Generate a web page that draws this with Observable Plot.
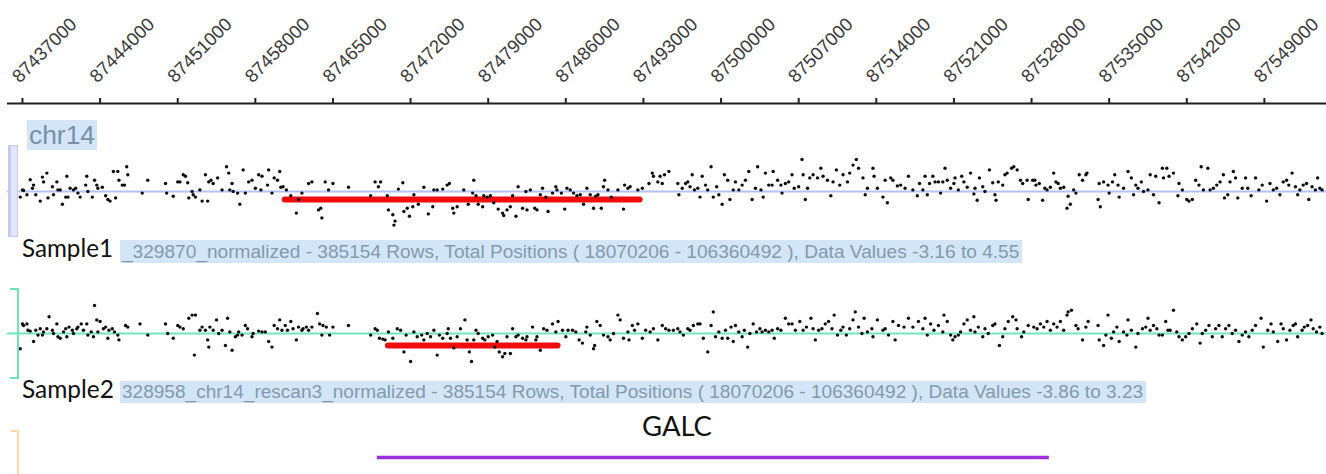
<!DOCTYPE html>
<html><head><meta charset="utf-8">
<script src="https://cdn.jsdelivr.net/npm/d3@7"></script>
<script src="https://cdn.jsdelivr.net/npm/@observablehq/plot@0.6"></script>
<style>
html,body{margin:0;padding:0;background:#fff;}
#chart{position:relative;width:1326px;height:474px;overflow:hidden;background:#fff;}
#chart svg{position:absolute;left:0;background:transparent;}
.lbl{position:absolute;white-space:nowrap;}
.brk{position:absolute;box-sizing:border-box;}
</style></head>
<body><div id="chart"></div>
<script>
// ---------- data ----------
const chrom = "chr14";
const windowStart = 87435000;            // bp; point positions are kb offsets from here
const xDomain = [87435650, 87554600];    // visible genomic window (bp)
const tickLabels = [87437000, 87444000, 87451000, 87458000, 87465000, 87472000, 87479000, 87486000,
  87493000, 87500000, 87507000, 87514000, 87521000, 87528000, 87535000, 87542000, 87549000];

const trackNames = ["Sample1", "Sample2"];
const trackInfo = [
  "_329870_normalized - 385154 Rows, Total Positions ( 18070206 - 106360492 ), Data Values -3.16 to 4.55",
  "328958_chr14_rescan3_normalized - 385154 Rows, Total Positions ( 18070206 - 106360492 ), Data Values -3.86 to 3.23"
];

// [kb offset from windowStart, log ratio]
const sample1 = [[1.8,-0.35],[2.0,0.1],[2.1,0.06],[2.4,-0.2],[2.7,0.73],[2.9,0.2],[3.0,0.4],[3.2,-0.2],[3.6,-0.6],[3.8,0.9],[3.9,0.6],[4.2,1.15],[4.3,-0.4],[4.7,0.3],[4.8,-0.2],[5.1,0.6],[5.2,0.1],[5.4,0.1],[5.6,-0.8],[5.9,-0.35],[6.0,0.95],[6.1,-0.35],[6.3,0.2],[6.6,0.1],[6.8,0.2],[7.0,-0.1],[7.2,-0.35],[7.7,0.4],[7.8,0.95],[7.9,0],[8.3,-0.35],[8.5,0.7],[8.7,0.4],[8.8,0.2],[9.2,0.27],[9.5,-0.27],[9.7,-0.5],[9.9,-0.6],[10.2,1.25],[10.4,-0.4],[10.6,1.25],[10.7,0.7],[11.0,0.4],[11.2,0.4],[11.4,1.55],[11.5,1.05],[12.8,-0.1],[13.3,0.7],[14.9,0.5],[15.0,-0.1],[15.6,-0.3],[16.0,0.6],[16.2,0.6],[16.5,1.05],[16.7,0.95],[16.9,0.55],[17.0,-0.4],[17.3,0],[17.4,-0.2],[17.6,-0.35],[18.0,0.1],[18.2,-0.6],[18.5,1.05],[18.7,-0.6],[18.8,0.6],[19.0,0.7],[19.2,0.5],[19.6,0.85],[20.0,0.1],[20.4,1.55],[20.6,1.15],[20.7,0.1],[20.9,0.5],[21.0,0],[21.4,-0.1],[21.6,-0.8],[21.9,1.35],[22.1,-0.1],[22.4,0.6],[22.7,0.7],[23.0,0.2],[23.3,1.05],[23.5,0.1],[23.6,0.95],[24.1,0.4],[24.2,1.35],[24.5,-0.1],[24.7,0.85],[25.0,0.7],[25.2,1.25],[25.3,0.27],[25.5,0.3],[25.8,0.1],[26.2,-0.27],[26.7,-1.35],[26.9,-0.5],[27.2,-0.1],[27.8,0.5],[28.1,0.6],[28.7,-1.15],[28.9,-1.05],[29.0,-1.65],[29.3,0.6],[29.6,0.1],[30.0,0.5],[31.4,0.27],[33.4,-0.27],[33.8,0.6],[34.1,0.3],[34.3,0.6],[34.9,-0.27],[35.0,-1.15],[35.4,-1.45],[35.5,-2.1],[35.6,-1.85],[35.9,0.15],[36.3,0.55],[36.4,-1.25],[36.7,-1.05],[36.9,-1.55],[37.2,-0.95],[37.3,-0.2],[37.7,-0.8],[38.2,0.27],[38.6,-1.4],[39.0,-0.95],[39.1,0.1],[39.4,0.1],[39.9,0.15],
[40.3,0.4],[40.5,0.5],[40.8,-1.05],[40.9,-1.35],[41.2,-0.95],[41.8,0.1],[42.2,-0.8],[42.6,-0.1],[42.7,0.7],[42.9,-0.27],[43.1,-0.8],[43.5,-0.95],[43.6,-0.27],[43.9,-0.35],[44.2,-0.27],[44.5,-0.7],[44.9,-1.1],[45.3,-1.35],[45.4,-1.5],[45.7,-1.15],[46.0,-0.95],[46.2,-0.27],[46.5,-1.55],[46.7,0.3],[47.1,-1.05],[47.4,0],[47.5,-1.15],[47.8,0.1],[48.2,-1.05],[48.4,-1.15],[48.7,-0.2],[48.9,0.2],[49.2,-0.35],[49.4,-1.25],[49.8,-0.1],[50.1,0.3],[50.2,0.1],[50.6,-0.1],[50.9,-1.1],[51.1,0.2],[51.4,0.1],[51.7,-0.1],[52.0,-0.27],[52.3,-0.2],[52.6,-0.8],[52.9,0.2],[53.2,-0.2],[53.5,-1.05],[53.7,-0.3],[53.9,-0.2],[54.2,-1.05],[54.4,0.3],[54.5,0.7],[54.8,0.1],[55.1,-0.35],[55.7,0.1],[56.2,-1.1],[56.3,0.4],[56.6,0.2],[56.8,0.3],[57.5,0.1],[57.9,0.2],[58.5,0.5],[58.8,1.15],[58.9,0.95],[59.3,0.6],[59.5,0.95],[59.7,0.5],[59.9,1.05],[60.3,1.25],[61.1,0.5],[61.2,-0.2],[61.5,0.2],[61.8,0.5],[62.0,0.6],[62.2,0.3],[62.4,1.05],[62.6,0.1],[62.9,0.2],[63.1,-0.35],[63.3,0.95],[63.6,0.4],[63.8,0.1],[64.1,1.55],[64.3,-0.35],[64.6,0.3],[64.8,-0.2],[65.1,-0.8],[65.3,1.05],[65.6,0.7],[65.8,-0.5],[66.1,0.1],[66.3,0.6],[66.6,0.1],[66.9,0.4],[67.2,0.7],[67.5,1.25],[67.8,-0.5],[68.1,0.2],[68.3,1.55],[68.6,0.1],[68.8,-0.35],[69.0,1.15],[69.3,0.4],[69.6,0.4],[69.7,1.25],[70.1,0.7],[70.4,0.4],[70.5,-0.1],[70.8,0.5],[71.1,0.6],[71.4,1.05],[71.6,0.2],[72.0,0.3],[72.3,2.0],[72.4,1.05],[72.6,-0.5],[72.8,0.2],[73.0,0.85],[73.3,1.05],[73.7,0.85],[74.0,1.45],[74.2,0.95],[74.6,0.7],[74.9,-0.27],[75.1,0.6],[75.4,1.35],[75.7,0.4],[76.0,1.05],[76.4,0.6],[76.6,1.15],[76.9,1.65],[77.2,2.0],[77.4,1.45],[77.8,0.85],[78.0,-0.2],[78.2,0.2],[78.7,1.45],[78.8,0.95],[79.1,0.2],
[79.6,-0.35],[79.8,0.7],[80.0,-0.7],[80.3,0.85],[80.5,0.7],[80.9,0.35],[81.2,0.4],[81.6,0.2],[81.9,0.95],[82.3,0.1],[82.7,-0.27],[82.9,0.5],[83.2,0.1],[83.4,0.95],[83.6,-0.2],[83.8,0.5],[84.1,0.95],[84.3,0.6],[84.6,0.6],[84.8,-0.1],[85.0,0.6],[85.2,1.45],[85.4,0.7],[85.7,0.2],[86.0,0.5],[86.1,0.85],[86.4,0.1],[86.7,0.95],[86.9,0.6],[87.2,0.27],[87.5,1.15],[87.8,-0.15],[87.9,0.2],[88.1,-0.55],[88.3,0.85],[88.6,0.3],[88.8,0],[89.2,1.35],[89.5,0.55],[89.7,-0.2],[89.8,-0.55],[90.0,0.6],[90.4,0.4],[90.6,1.05],[90.8,1.15],[91.2,1.45],[91.4,1.55],[91.7,1.35],[92.0,0.7],[92.2,0.5],[92.6,0.7],[92.7,-0.5],[93.1,0.7],[93.3,0.7],[93.4,0.4],[93.7,0.5],[94.0,-0.55],[94.2,0.2],[94.4,0.1],[94.7,0.27],[95.0,1.15],[95.2,0.6],[95.4,0.5],[95.6,0.2],[95.9,0.27],[96.2,-1.05],[96.3,-0.3],[96.5,-0.8],[96.8,0.1],[97.0,-0.1],[97.3,1.05],[97.6,0.7],[97.9,1.05],[98.0,1.15],[99.0,-0.5],[99.1,0.5],[99.2,-0.95],[99.5,0.6],[99.9,0.4],[100.0,-0.1],[100.3,0.6],[100.5,1.05],[100.8,0.4],[100.9,-0.35],[101.3,0.2],[101.7,1.25],[102.0,0.85],[102.2,-0.2],[102.4,0.4],[102.6,0.2],[102.9,0.6],[103.1,0],[103.5,0.1],[103.7,1.05],[104.0,-0.2],[104.2,0.95],[104.5,-0.7],[104.8,1.45],[104.9,0.85],[105.2,1.45],[105.4,0.95],[105.8,1.15],[106.2,-0.27],[106.3,0.5],[106.6,0.1],[107.0,-0.5],[107.2,-0.6],[107.5,-0.5],[107.8,0.7],[108.1,0.4],[108.3,1.55],[108.5,0.1],[108.9,1.45],[109.1,0.1],[109.4,0.2],[109.7,0.4],[110.0,0.6],[110.3,1.05],[110.4,-0.4],[110.7,-0.2],[110.9,0.6],[111.2,1.25],[111.4,0.85],[111.6,-0.4],[112.0,0.2],[112.3,0.85],[112.5,0.2],[112.8,-0.27],[113.2,0.85],[113.5,0.1],[113.8,0.4],[114.2,-0.6],[114.5,0.5],[114.8,0.1],[115.1,0.2],[115.4,-0.2],[115.7,0.6],[116.0,0.7],[116.2,0.4],[116.5,1.15],[116.8,0.3],[117.0,-0.2],[117.2,0.1],[117.5,0.4],[117.8,0.5],[118.0,-0.5],[118.3,0.3],[118.6,0.1],[118.8,0.85],[119.0,0.2],[119.2,0.1]];

const sample2 = [[1.8,-0.95],[2.0,0.6],[2.1,0.5],[2.4,0.6],[2.5,0.2],[2.7,0.15],[3.0,-0.5],[3.2,0.2],[3.4,-0.1],[3.6,0.3],[3.8,-0.1],[3.9,0.1],[4.2,0.3],[4.4,1.05],[4.7,0.2],[4.8,0],[5.1,0.6],[5.2,-0.2],[5.4,-0.3],[5.7,0.1],[5.9,0.3],[6.0,-0.2],[6.2,0.4],[6.5,0.2],[6.6,0],[6.9,0.3],[7.0,0.4],[7.3,0.6],[7.5,0.2],[7.8,0.6],[7.9,-0.1],[8.2,0.1],[8.4,-0.2],[8.5,1.75],[8.7,0.85],[8.8,0.1],[9.0,0.75],[9.3,0.3],[9.5,0.4],[9.7,-0.3],[9.8,0.2],[10.1,0.3],[10.3,0.1],[10.6,-0.1],[10.7,-0.4],[11.3,0.5],[11.5,0.4],[12.6,0.6],[13.3,-0.1],[14.9,0.6],[15.1,0],[15.6,-0.3],[16.0,0.5],[16.2,0.4],[16.5,0.3],[17.0,0.95],[17.3,1.15],[17.5,-1.35],[17.6,1.15],[18.0,0.2],[18.2,0.4],[18.5,0.2],[18.7,-0.4],[18.8,-0.85],[18.9,0.4],[19.2,0.2],[19.5,0.85],[19.7,0],[20.0,0.2],[20.3,-0.75],[20.5,0.95],[20.7,0.1],[20.9,-1.05],[21.2,-0.2],[21.4,-0.1],[21.5,0.1],[21.8,-0.1],[22.1,0.5],[22.3,0.3],[22.7,-0.2],[22.8,0],[23.3,0.15],[23.6,0.1],[23.9,0.1],[24.2,-0.5],[24.5,-0.85],[24.7,0.5],[25.0,0.3],[25.2,0.85],[25.4,0.2],[25.7,0.5],[25.9,0.2],[26.2,0.75],[26.4,0.3],[26.7,-0.4],[26.9,0.4],[27.2,0.2],[27.3,0.3],[27.6,0.4],[27.8,0.2],[28.1,0.4],[28.6,1.25],[28.8,0.6],[29.0,-0.1],[29.1,0.5],[29.4,0.4],[29.7,-0.1],[30.0,0.4],[31.4,0.5],[33.4,-0.1],[33.8,0.3],[34.0,0.2],[34.2,-0.3],[34.5,-0.35],[34.7,-0.4],[35.0,0.1],[35.4,-0.3],[35.8,0.3],[36.1,0.2],[36.4,-1.15],[36.6,-0.1],[37.0,-1.75],[37.3,0.1],[37.6,-0.2],[38.0,-0.1],[38.2,-0.4],[38.5,0],[38.8,-0.2],[39.1,0.2],[39.4,-1.35],[39.6,-0.1],[39.9,-0.3],[40.3,0],
[40.4,0.3],[40.6,-0.3],[40.9,-0.9],[41.2,-0.2],[41.5,0.3],[41.9,0.85],[42.1,-0.4],[42.3,-1.15],[42.5,-1.75],[42.7,-0.4],[42.9,0.2],[43.1,0],[43.5,-0.3],[43.7,-0.4],[44.0,-0.2],[44.4,-0.1],[44.6,-0.85],[44.8,-0.5],[45.0,-1.15],[45.3,-1.45],[45.5,-1.25],[45.7,-0.2],[46.0,-1.25],[46.2,0.3],[46.5,-0.2],[46.7,-0.1],[47.1,-0.3],[47.4,-0.4],[47.5,-0.2],[48.0,0.4],[48.3,-0.4],[48.4,-0.2],[48.7,-1.05],[49.0,0.3],[49.3,0.2],[49.8,0.6],[50.1,0.1],[50.3,0.75],[50.7,0.2],[51.0,-0.2],[51.2,0.2],[51.6,0.2],[51.9,0.1],[52.2,-0.4],[52.5,-0.6],[52.8,0.1],[52.9,0.4],[53.2,-0.1],[53.5,-0.95],[53.6,-0.75],[53.8,0.75],[54.1,0.5],[54.4,-0.1],[54.8,-0.2],[55.0,-0.4],[55.3,0],[55.7,1.15],[55.9,0.85],[56.2,-0.3],[56.6,0.1],[56.7,-0.4],[57.0,0.5],[57.2,0.2],[57.5,0.6],[57.9,-0.3],[58.2,0.2],[58.6,0.1],[58.9,0.3],[59.3,-0.4],[59.7,0.5],[60.0,0.3],[60.3,0.2],[60.7,0.2],[61.1,0.3],[61.3,0.1],[61.6,-0.1],[62.0,0.3],[62.2,0.2],[62.5,0.5],[62.9,0.6],[63.1,0.6],[63.4,-0.3],[63.8,-1.15],[64.1,0.5],[64.3,1.35],[64.5,-0.2],[64.8,0.1],[65.1,-0.3],[65.4,0.2],[65.6,-0.3],[65.9,0.4],[66.1,-0.5],[66.3,0.5],[66.6,0.1],[66.9,-0.2],[67.1,0.2],[67.4,-0.85],[67.6,0],[67.9,0.6],[68.2,0.1],[68.5,0.3],[68.7,0.1],[69.0,0.2],[69.3,0.1],[69.6,0.2],[69.8,-0.3],[70.1,0.3],[70.4,0.2],[70.8,0.95],[71.1,0.6],[71.4,0.6],[71.7,0.2],[72.1,0.75],[72.4,0.2],[72.7,0.4],[73.1,0.95],[73.3,0.3],[73.5,-0.4],[73.8,0.2],[74.1,0.3],[74.4,0.6],[74.7,0.75],[75.0,0.3],[75.2,1.15],[75.5,-0.1],[75.8,0.2],[76.0,0.4],[76.3,-0.1],[76.6,0.3],[76.9,0.85],[77.1,1.35],[77.4,0.4],[77.7,0],[77.9,0.95],[78.2,0.1],[78.6,0.3],[78.7,-0.2],[79.1,0.85],
[79.6,0.2],[79.8,0.3],[80.1,-0.1],[80.5,0.75],[80.7,-0.4],[81.0,0.5],[81.5,0.4],[81.9,0.95],[82.3,0.4],[82.8,0.75],[83.2,0.3],[83.4,0.95],[83.6,-0.1],[83.9,0.6],[84.2,0.2],[84.6,0.5],[85.0,0.1],[85.1,1.15],[85.4,0.75],[85.7,-0.1],[85.9,-0.4],[86.1,-0.2],[86.4,-0.1],[86.6,0.1],[86.9,0.6],[87.2,0.85],[87.5,0.2],[87.8,1.05],[87.9,0.1],[88.2,0.4],[88.6,-0.2],[88.8,0.3],[89.1,0],[89.5,0.5],[89.7,0.6],[90.1,-0.75],[90.4,-0.2],[90.6,0.3],[90.9,0.75],[91.3,1.05],[91.6,0.85],[91.7,0.3],[92.1,-0.2],[92.3,0.1],[92.7,0.5],[93.2,0.4],[93.5,0.3],[93.8,0.6],[94.1,0.4],[94.4,0.75],[94.7,0.2],[95.0,0.6],[95.3,0.4],[95.6,0.75],[95.9,0.2],[96.2,1.15],[96.3,1.35],[96.6,1.45],[97.0,0.5],[97.2,0.3],[97.6,-0.4],[97.9,0.4],[98.1,0.75],[99.0,0.5],[99.1,-0.4],[99.5,-0.75],[99.7,-0.1],[99.9,1.15],[100.2,-0.3],[100.4,0.1],[100.7,0.4],[100.9,-0.5],[101.3,0.1],[101.6,-0.1],[101.7,0.85],[102.0,0.2],[102.4,-0.85],[102.6,0],[103.0,0.3],[103.3,0.4],[103.5,0.95],[103.7,0.2],[104.0,0.5],[104.3,0.3],[104.5,-0.1],[104.8,-0.1],[105.1,0.75],[105.3,0.2],[105.5,0.2],[105.8,1.45],[106.1,0.1],[106.3,-0.2],[106.6,-0.4],[106.9,-0.2],[107.2,0],[107.5,0.3],[107.9,0.6],[108.2,-0.6],[108.4,0],[108.7,0.2],[109.0,0.5],[109.3,-0.2],[109.6,0.3],[109.9,0.5],[110.2,-0.2],[110.5,0.3],[110.8,0.5],[111.1,0],[111.4,0.2],[111.7,-0.5],[112.0,-0.1],[112.3,0.1],[112.6,-0.2],[112.9,0.2],[113.2,0.5],[113.7,0.95],[113.9,-0.85],[114.3,0.2],[114.6,0.6],[114.8,0.1],[115.2,-0.5],[115.5,0.6],[115.7,0.3],[116.0,-0.4],[116.3,0.2],[116.6,0.5],[116.8,0.6],[117.0,-0.2],[117.4,0.2],[117.6,0.4],[117.9,0.5],[118.2,0.85],[118.4,0.3],[118.7,0.1],[119.0,0.4],[119.2,0]];

// segmentation calls (bp, mean log ratio)
const sample1Segments = [{start: 87460700, end: 87492700, value: -0.5}];
const sample2Segments = [{start: 87470000, end: 87485300, value: -0.75}];
// gene annotation
const genes = [{name: "GALC", start: 87469000, end: 87529600}];

// ---------- drawing ----------
const W = 1326, ML = 7, MR = 0;
const chart = document.getElementById("chart");
const toPts = arr => arr.map(([kb, v]) => ({pos: windowStart + kb * 1000, value: v}));

function place(svg, top) { svg.style.top = top + "px"; chart.appendChild(svg); }

// genomic ruler
place(Plot.plot({
  width: W, height: 110, marginLeft: ML, marginRight: MR, marginTop: 103, marginBottom: 7,
  style: {background: "transparent", overflow: "visible"},
  x: {domain: xDomain},
  y: {domain: [0, 1], axis: null},
  marks: [
    Plot.ruleY([0], {stroke: "#1e1e1e", strokeWidth: 2}),
    // tick marks
    Plot.axisX({ticks: tickLabels, anchor: "top", tickSize: 6, tickFormat: () => "", stroke: "#222", strokeWidth: 2, label: null}),
    // rotated tick labels
    Plot.axisX({ticks: tickLabels, anchor: "top", tickSize: 0, tickPadding: 9, tickRotate: -45,
      tickFormat: d => String(d), fontSize: 18.5, fill: "#3a3a3a",
      textAnchor: "start", dx: -7, dy: -15, label: null, fontFamily: "'Liberation Sans', Arial, sans-serif"})
  ]
}), 0);

function track(data, segs, lineColor, height, base) {
  return Plot.plot({
    width: W, height, marginLeft: ML, marginRight: MR, marginTop: 0, marginBottom: 0,
    style: {background: "transparent", overflow: "visible"},
    x: {domain: xDomain, axis: null},
    y: {domain: [-3, 3], range: [base + 48, base - 48], axis: null},
    marks: [
      Plot.ruleY([0], {stroke: lineColor, strokeWidth: 2}),
      Plot.ruleY(segs, {y: "value", x1: "start", x2: "end", stroke: "#f00c0c", strokeWidth: 6, strokeLinecap: "round"}),
      Plot.dot(toPts(data), {x: "pos", y: "value", r: 1.7, fill: "#0d0d0d", stroke: null})
    ]
  });
}
place(track(sample1, sample1Segments, "#b7c1f6", 130, 81), 110);
place(track(sample2, sample2Segments, "#70e6bb", 120, 63), 270);

place(Plot.plot({
  width: W, height: 54, marginLeft: ML, marginRight: MR, marginTop: 0, marginBottom: 0,
  style: {background: "transparent", overflow: "visible"},
  x: {domain: xDomain, axis: null},
  y: {domain: genes.map(d => d.name), range: [37, 37], axis: null},
  marks: [Plot.ruleY(genes, {y: "name", x1: "start", x2: "end", stroke: "#9b2fe0", strokeWidth: 3.5})]
}), 420);

// track brackets
function bracket(css) { const d = document.createElement("div"); d.className = "brk"; Object.assign(d.style, css); chart.appendChild(d); }
bracket({left: "8px", top: "145px", width: "10px", height: "92px", background: "#e3e6fc", border: "1px solid #c4caf4", borderLeft: "3px solid #c4caf4"});
bracket({left: "10px", top: "288px", width: "9px", height: "91px", borderTop: "2px solid #6fe3b9", borderBottom: "2px solid #6fe3b9", borderRight: "2px solid #6fe3b9"});
bracket({left: "11px", top: "430px", width: "8px", height: "60px", borderTop: "2px solid #fcd9a6", borderRight: "2px solid #fcd9a6"});

// labels: baseline-positioned, width-fitted
const LIB = {family: "'Liberation Sans', Arial, sans-serif", asc: 0.905, desc: 0.212};
const LATO = {family: "Lato, sans-serif", asc: 0.987, desc: 0.213};
function label(text, o) {
  const d = document.createElement("div");
  d.className = "lbl";
  d.textContent = text;
  const lh = o.lh;
  d.style.fontFamily = o.font.family;
  d.style.color = o.color;
  d.style.lineHeight = lh + "px";
  d.style.height = lh + "px";
  if (o.bg) d.style.background = o.bg;
  const padL = o.textX - o.boxX, padR = o.padR || 0;
  d.style.paddingLeft = padL + "px";
  d.style.paddingRight = padR + "px";
  d.style.left = o.boxX + "px";
  let size = o.size;
  d.style.fontSize = size + "px";
  chart.appendChild(d);
  if (o.textW) {
    const w = d.getBoundingClientRect().width - padL - padR;
    size = size * o.textW / w;
    d.style.fontSize = size + "px";
  }
  const content = (o.font.asc + o.font.desc) * size;
  const baseOff = (lh - content) / 2 + o.font.asc * size;
  d.style.top = (o.baseline - baseOff) + "px";
}
label(chrom, {font: LIB, size: 25, color: "#7890a6", bg: "#d3e5f7", boxX: 27, textX: 29, padR: 2, textW: 66, lh: 30, baseline: 144});
label(trackNames[0], {font: LATO, size: 22, color: "#111", boxX: 22, textX: 22, textW: 91, lh: 26, baseline: 257});
label(trackInfo[0], {font: LIB, size: 17, color: "#8499ad", bg: "#d3e6f8", boxX: 120, textX: 122, padR: 3, textW: 898, lh: 23, baseline: 258});
label(trackNames[1], {font: LATO, size: 22, color: "#111", boxX: 22, textX: 22, textW: 92, lh: 26, baseline: 398});
label(trackInfo[1], {font: LIB, size: 17, color: "#8499ad", bg: "#d3e6f8", boxX: 120, textX: 122, padR: 3, textW: 1022, lh: 22, baseline: 399});
label(genes[0].name, {font: LATO, size: 26, color: "#111", boxX: 642, textX: 642, textW: 70, lh: 30, baseline: 437});
</script>
</body></html>
